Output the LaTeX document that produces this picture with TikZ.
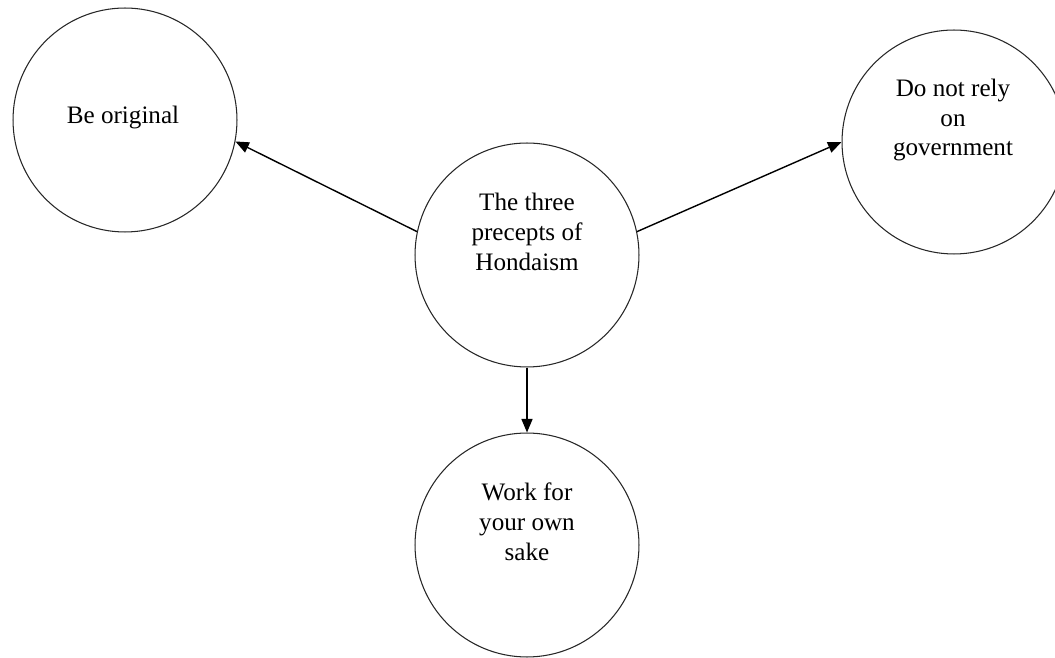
\documentclass[tikz,border=0pt]{standalone}
\usepackage{fontspec}
\setmainfont{Liberation Serif}
\usetikzlibrary{arrows.meta,positioning,shapes.geometric}

\begin{document}
\begin{tikzpicture}[x=0.02cm, y=-0.02cm,
    precept/.style={circle, draw=black!85, line width=0.6pt, minimum size=4.48cm, inner sep=0pt},
    ptext/.style={align=center, font=\fontsize{14.3}{17}\selectfont, inner sep=0pt},
    link/.style={draw=black, line width=0.8pt, -{Triangle[length=0.27cm, width=0.22cm]}}
    ]
    \useasboundingbox (0,0) rectangle (1055,658);

    \node[precept] (hub) at (527,255) {};
    \node[precept] (orig) at (125,120) {};
    \node[precept] (gov) at (954,142) {};
    \node[precept] (own) at (527,545) {};

    \node[ptext] (hubtxt) at (527,232) {The three\\precepts of\\Hondaism};
    \node[ptext] (origtxt) at (123,117) {Be original};
    \node[ptext] (govtxt) at (953,120) {Do not rely\\on\\government};
    \node[ptext] (owntxt) at (527,522) {Work for\\your own\\sake};

    \draw[link] (hub.168) -- (orig.-11);
    \draw[link] (hub.12) -- (gov.180);
    \draw[link] (hub.south) -- (own.north);
\end{tikzpicture}
\end{document}
